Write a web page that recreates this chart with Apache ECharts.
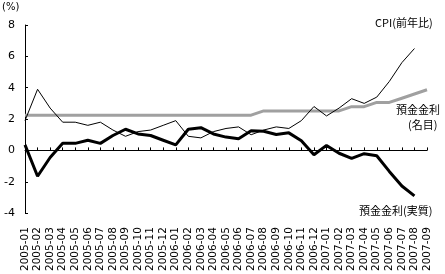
<!DOCTYPE html>
<html><head><meta charset="utf-8">
<script src="https://cdn.jsdelivr.net/npm/echarts@6/dist/echarts.min.js"></script>
<style>html,body{margin:0;padding:0;background:#fff}#c{width:445px;height:274px}</style>
</head><body><div id="c"></div>
<script>
const categories = ['2005-01','2005-02','2005-03','2005-04','2005-05','2005-06','2005-07','2005-08','2005-09','2005-10','2005-11','2005-12',
'2006-01','2006-02','2006-03','2006-04','2006-05','2006-06','2006-07','2006-08','2006-09','2006-10','2006-11','2006-12',
'2007-01','2007-02','2007-03','2007-04','2007-05','2007-06','2007-07','2007-08','2007-09'];
const cpi = [1.9,3.9,2.7,1.8,1.8,1.6,1.8,1.3,0.9,1.2,1.3,1.6,1.9,0.9,0.8,1.2,1.4,1.5,1.0,1.3,1.5,1.4,1.9,2.8,2.2,2.7,3.3,3.0,3.4,4.4,5.6,6.5];
const nominal = [2.25,2.25,2.25,2.25,2.25,2.25,2.25,2.25,2.25,2.25,2.25,2.25,2.25,2.25,2.25,2.25,2.25,2.25,2.25,
2.52,2.52,2.52,2.52,2.52,2.52,2.52,2.79,2.79,3.06,3.06,3.33,3.60,3.87];
const real = [0.35,-1.65,-0.45,0.45,0.45,0.65,0.45,0.95,1.35,1.05,0.95,0.65,0.35,1.35,1.45,1.05,0.85,0.75,1.25,1.22,1.02,1.12,0.62,-0.28,0.32,-0.18,-0.51,-0.21,-0.34,-1.34,-2.27,-2.9];
const yTicks = {min:-4, max:8, interval:2};

const chart = echarts.init(document.getElementById('c'), null, {renderer:'canvas'});
const font = 'DejaVu Sans';
const cjk = '"Noto Sans CJK JP"';
chart.setOption({
  animation:false,
  grid:{left:25,right:18,top:25,bottom:60},
  xAxis:[
    {type:'category', data:categories, boundaryGap:false, position:'bottom',
     axisLine:{show:false,onZero:false}, axisTick:{show:false},
     axisLabel:{rotate:90, interval:0, margin:14, fontSize:10.5, fontFamily:font, color:'#000'}},
    {type:'category', data:categories, boundaryGap:false, position:'bottom',
     axisLine:{show:true,onZero:true,lineStyle:{color:'#000',width:1}},
     axisTick:{show:true,inside:true,length:3,interval:0,lineStyle:{color:'#000'}},
     axisLabel:{show:false}}
  ],
  yAxis:{type:'value', min:yTicks.min, max:yTicks.max, interval:yTicks.interval,
    axisLine:{show:true,lineStyle:{color:'#000',width:1}},
    axisTick:{show:true,inside:true,length:3,lineStyle:{color:'#000'}},
    splitLine:{show:false},
    axisLabel:{fontSize:11, fontFamily:font, color:'#000', margin:10}},
  series:[
    {type:'line', name:'預金金利(名目)', data:nominal, symbol:'none', lineStyle:{color:'#a0a0a0',width:3}, z:2},
    {type:'line', name:'CPI(前年比)', data:cpi, symbol:'none', lineStyle:{color:'#000',width:1}, z:3},
    {type:'line', name:'預金金利(実質)', data:real, symbol:'none', lineStyle:{color:'#000',width:3}, z:4}
  ],
  graphic:[
    {type:'text', left:2, top:2, style:{text:'(%)', font:'10px '+font, fill:'#000'}},
    {type:'text', left:375, top:17, style:{text:'CPI(前年比)', font:'11px '+cjk, fill:'#000'}},
    {type:'text', left:396, top:104, style:{text:'預金金利', font:'11px '+cjk, fill:'#000'}},
    {type:'text', left:408, top:119, style:{text:'(名目)', font:'11px '+cjk, fill:'#000'}},
    {type:'text', left:359, top:205, style:{text:'預金金利(実質)', font:'11px '+cjk, fill:'#000'}}
  ]
});
</script></body></html>
